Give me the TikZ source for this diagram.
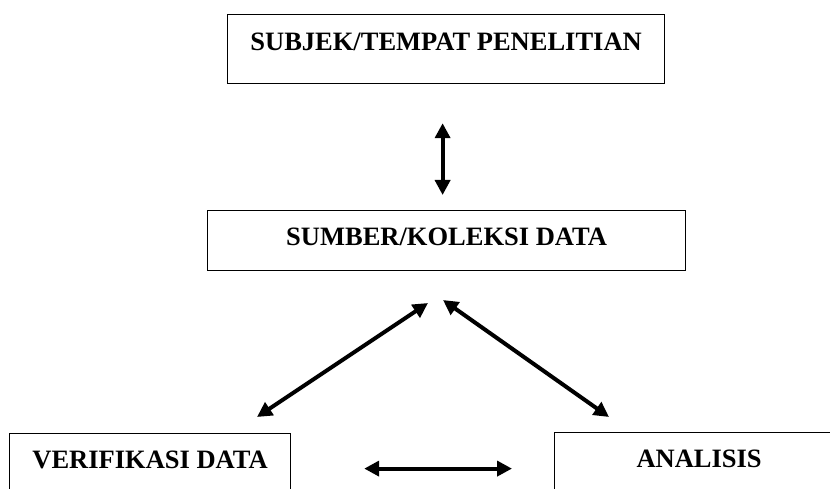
\documentclass[tikz,border=0pt]{standalone}
\usepackage{fontspec}
\setmainfont{Liberation Serif}
\usepackage{tikz}
\usetikzlibrary{arrows.meta}

\tikzset{
  kotak/.style={draw, line width=1.2pt, inner sep=0pt, anchor=north west,
    font=\bfseries\fontsize{26.5}{30}\selectfont},
  panah/.style={line width=4pt,
    {Triangle[length=15pt,width=15pt]}-{Triangle[length=15pt,width=15pt]}}
}

\begin{document}
\begin{tikzpicture}[x=1pt, y=1pt]
\useasboundingbox (0,0) rectangle (830,488);
\clip (0,0) rectangle (830,488);

\node[kotak, minimum width=437pt, text height=36pt, text depth=33pt] (subjek) at (227,474) {SUBJEK/TEMPAT PENELITIAN};
\node[kotak, minimum width=478pt, text height=35pt, text depth=25pt] (sumber) at (207,278) {SUMBER/KOLEKSI DATA};
\node[kotak, minimum width=281pt, text height=35pt, text depth=35pt] (verif) at (9,55) {VERIFIKASI DATA};
\node[kotak, minimum width=289pt, text height=35pt, text depth=35pt] (analisis) at (554,56) {ANALISIS};

% ujung panah diagonal
\coordinate (kiriatas) at (428,185);
\coordinate (kiribawah) at (257,71);
\coordinate (kananatas) at (443,188);
\coordinate (kananbawah) at (609,71);

\draw[panah, shorten <=39pt, shorten >=15pt] ([xshift=-3.5pt]subjek.south) -- ([xshift=-3.5pt]subjek.south |- sumber.north);
\draw[panah] (kiriatas) -- (kiribawah);
\draw[panah] (kananatas) -- (kananbawah);
\draw[panah, shorten <=73pt, shorten >=42pt] (verif.east) -- (verif.east -| analisis.west);
\end{tikzpicture}
\end{document}
